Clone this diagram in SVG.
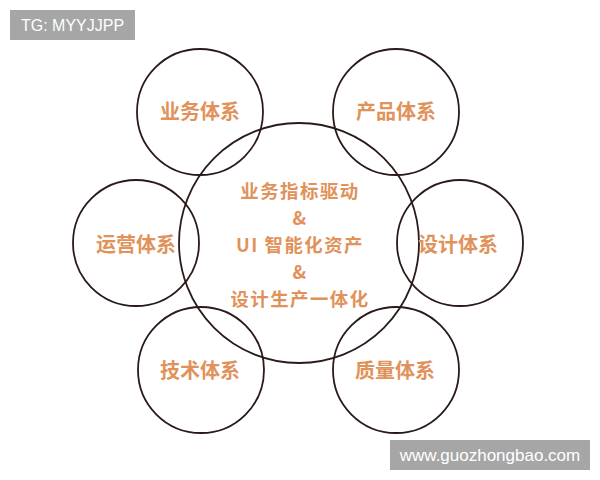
<svg xmlns="http://www.w3.org/2000/svg" width="600" height="480" viewBox="0 0 600 480">
<style>
.c{fill:none;stroke:#2b1a1a;stroke-width:1.8}
.t{font-family:"Noto Sans CJK SC","Noto Sans",sans-serif;font-size:20px;font-weight:bold;fill:#e0925a;text-anchor:middle;dominant-baseline:central}
.m{font-size:18.4px;letter-spacing:1.5px}
.tag{font-family:"Liberation Sans",Arial,sans-serif;font-size:16px;fill:#ffffff;text-anchor:middle;dominant-baseline:central}
</style>
<rect width="600" height="480" fill="#ffffff"/>
<g id="center">
<circle class="c" cx="299" cy="243" r="120"/>
<text class="t m" x="300" y="190">业务指标驱动</text>
<text class="t m" x="300" y="217">&amp;</text>
<text class="t m" x="300" y="244">UI 智能化资产</text>
<text class="t m" x="300" y="271">&amp;</text>
<text class="t m" x="300" y="298">设计生产一体化</text>
</g>
<g id="business"><circle class="c" cx="200" cy="112" r="63"/><text class="t" x="200" y="110">业务体系</text></g>
<g id="product"><circle class="c" cx="396" cy="112" r="63"/><text class="t" x="396" y="110">产品体系</text></g>
<g id="operation"><circle class="c" cx="136" cy="243" r="63"/><text class="t" x="136" y="243">运营体系</text></g>
<g id="design"><circle class="c" cx="460" cy="243" r="63"/><text class="t" x="458" y="243">设计体系</text></g>
<g id="tech"><circle class="c" cx="201" cy="370" r="63"/><text class="t" x="200" y="369">技术体系</text></g>
<g id="quality"><circle class="c" cx="396" cy="370" r="63"/><text class="t" x="395" y="369">质量体系</text></g>
<g id="connectors"></g>
<g id="tag1"><rect x="10" y="10" width="125" height="30" fill="#a6a6a6"/><text class="tag" x="72.5" y="25">TG: MYYJJPP</text></g>
<g id="tag2"><rect x="390" y="440" width="200" height="30" fill="#a6a6a6"/><text class="tag" x="490" y="455" style="font-size:17px">www.guozhongbao.com</text></g>
</svg>
